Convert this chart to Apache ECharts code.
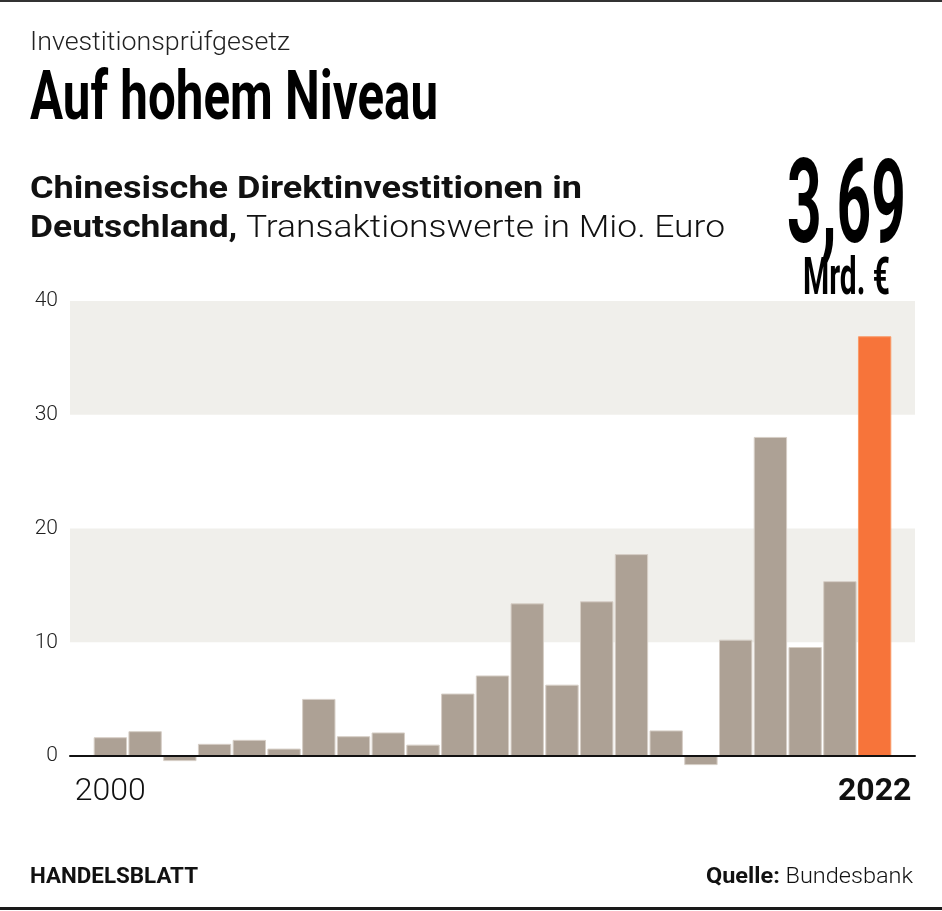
<!DOCTYPE html>
<html>
<head>
<meta charset="utf-8">
<script src="https://cdn.jsdelivr.net/npm/echarts@6/dist/echarts.min.js"></script>
<style>
html,body{margin:0;padding:0;background:#fff;}
#chart{width:942px;height:911px;}
</style>
</head>
<body>
<div id="chart"></div>
<script>
// ---- data ----
const years = ['2000','2001','2002','2003','2004','2005','2006','2007','2008','2009','2010','2011','2012','2013','2014','2015','2016','2017','2018','2019','2020','2021','2022'];
const values = [1.65, 2.18, -0.45, 1.07, 1.42, 0.65, 5.02, 1.74, 2.07, 1.0, 5.49, 7.08, 13.42, 6.27, 13.6, 17.75, 2.25, -0.8, 10.23, 28.05, 9.58, 15.37, 36.9];
const highlightYear = '2022';
const yTicks = [0, 10, 20, 30, 40];
const headline = '3,69';
const headlineUnit = 'Mrd. €';

// ---- helpers ----
const cvs = document.createElement('canvas');
const ctx = cvs.getContext('2d');
function w(text, font){ ctx.font = font; return ctx.measureText(text).width; }

const F = 'Roboto';
const fKicker = '300 25px ' + F;
const fTitle = 'bold 68px ' + F;
const fSubB = 'bold 31px ' + F;
const fSubL = '300 31px ' + F;
const fBig = 'bold 117px ' + F;
const fUnit = 'bold 51px ' + F;
const fFootB = 'bold 22px ' + F;
const fFootL = '300 22px ' + F;

const subLine1 = 'Chinesische Direktinvestitionen in';
const subB2 = 'Deutschland,';
const subL2 = ' Transaktionswerte in Mio. Euro';

const sKicker = 260 / w('Investitionsprüfgesetz', fKicker);
const sTitle = 408 / w('Auf hohem Niveau', fTitle);
const sSub1 = 552 / w(subLine1, fSubB);
const sSub2 = 695 / (w(subB2, fSubB) + w(subL2, fSubL));
const sBig = 119 / w(headline, fBig);
const sUnit = 87 / w(headlineUnit, fUnit);
const sFoot1 = 168 / w('HANDELSBLATT', fFootB);
const sFoot2 = 207 / (w('Quelle:', fFootB) + w(' Bundesbank', fFootL));

const chart = echarts.init(document.getElementById('chart'), null, {renderer:'canvas'});

const barData = values.map((v, i) => ({
  value: v,
  itemStyle: years[i] === highlightYear
    ? {color:'#f7743a', borderColor:'#f99a68', borderWidth:1}
    : {color:'#ada195', borderColor:'#d6cec6', borderWidth:1}
}));

const option = {
  backgroundColor:'#ffffff',
  animation:false,
  grid:[
    {left:70, right:27, top:301, bottom:155, containLabel:false},
    {left:93, right:50, top:301, bottom:155, containLabel:false}
  ],
  xAxis:[
    {type:'category', gridIndex:0, data:[''], z:10,
      axisLine:{show:true, lineStyle:{color:'#111', width:2}},
      axisTick:{show:false}, axisLabel:{show:false}, splitLine:{show:false}},
    {type:'category', gridIndex:1, data:years,
      axisLine:{show:false}, axisTick:{show:false}, splitLine:{show:false},
      axisLabel:{
        show:true, margin:20,
        interval:(i)=> i===0 || i===years.length-1,
        formatter:(v)=> v===highlightYear ? '{b|'+v+'}' : '{a|'+v+'}',
        rich:{
          a:{fontFamily:F, fontWeight:300, fontSize:32, color:'#111'},
          b:{fontFamily:F, fontWeight:'bold', fontSize:32, color:'#111'}
        }
      }}
  ],
  yAxis:[
    {type:'value', gridIndex:0, min:yTicks[0], max:yTicks[yTicks.length-1], interval:10,
      axisLine:{show:false}, axisTick:{show:false},
      splitLine:{show:false},
      splitArea:{show:true, areaStyle:{color:['rgba(255,255,255,0)','#f0efeb']}},
      axisLabel:{show:true, margin:12, fontFamily:F, fontWeight:300, fontSize:21, color:'#222'}},
    {type:'value', gridIndex:1, min:yTicks[0], max:yTicks[yTicks.length-1], interval:10,
      show:false, splitLine:{show:false}, splitArea:{show:false}}
  ],
  series:[
    {type:'bar', xAxisIndex:1, yAxisIndex:1, data:barData, barCategoryGap:'4%', clip:false, z:3}
  ],
  graphic:[
    {type:'rect', shape:{x:0, y:0, width:942, height:2}, style:{fill:'#333'}},
    {type:'rect', shape:{x:0, y:907, width:942, height:3}, style:{fill:'#1a1a1a'}},
    {type:'text', x:30, y:43.5, scaleX:sKicker,
      style:{text:'Investitionsprüfgesetz', font:fKicker, fill:'#222', textAlign:'left', textVerticalAlign:'middle'}},
    {type:'text', x:30, y:102, scaleX:sTitle,
      style:{text:'Auf hohem Niveau', font:fTitle, fill:'#000', textAlign:'left', textVerticalAlign:'middle'}},
    {type:'text', x:30, y:190, scaleX:sSub1,
      style:{text:subLine1, font:fSubB, fill:'#111', textAlign:'left', textVerticalAlign:'middle'}},
    {type:'text', x:30, y:229, scaleX:sSub2,
      style:{text:'{b|'+subB2+'}{l|'+subL2+'}', textAlign:'left', textVerticalAlign:'middle',
        rich:{b:{font:fSubB, fill:'#111'}, l:{font:fSubL, fill:'#111'}}}},
    {type:'text', x:906, y:213, scaleX:sBig,
      style:{text:headline, font:fBig, fill:'#000', textAlign:'right', textVerticalAlign:'middle'}},
    {type:'text', x:846.5, y:281.5, scaleX:sUnit,
      style:{text:headlineUnit, font:fUnit, fill:'#000', textAlign:'center', textVerticalAlign:'middle'}},
    {type:'text', x:30, y:877, scaleX:sFoot1,
      style:{text:'HANDELSBLATT', font:fFootB, fill:'#111', textAlign:'left', textVerticalAlign:'middle'}},
    {type:'text', x:913, y:877, scaleX:sFoot2,
      style:{text:'{b|Quelle:}{l| Bundesbank}', textAlign:'right', textVerticalAlign:'middle',
        rich:{b:{font:fFootB, fill:'#111'}, l:{font:fFootL, fill:'#111'}}}}
  ]
};
chart.setOption(option);
</script>
</body>
</html>
